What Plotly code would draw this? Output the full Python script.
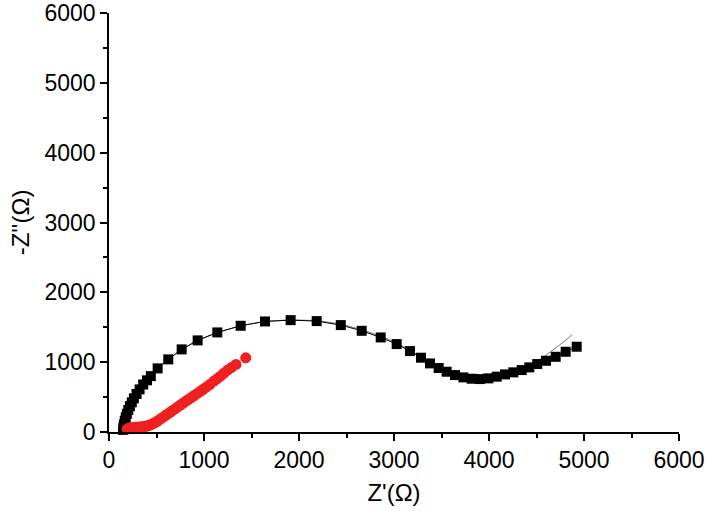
import plotly.graph_objects as go

# Black squares (measured data)
black_x = [148, 152, 158, 166, 176, 188, 203, 220, 240, 262, 290, 322, 360, 400, 440,
           512, 624, 765, 933, 1140, 1386, 1642, 1912, 2186, 2440, 2660, 2860, 3028,
           3168, 3284, 3379, 3470, 3554, 3642, 3730, 3818, 3905, 3993, 4081, 4168,
           4256, 4344, 4424, 4508, 4600, 4702, 4807, 4923]
black_y = [30, 70, 110, 160, 210, 260, 315, 370, 425, 482, 545, 610, 680, 740, 800,
           911, 1040, 1183, 1312, 1426, 1521, 1583, 1602, 1588, 1531, 1449, 1354, 1259,
           1159, 1064, 982, 916, 863, 815, 782, 763, 758, 768, 792, 825,
           854, 887, 925, 973, 1020, 1077, 1149, 1221]

# Fitted curve (thin grey line)
fit_x = [148, 166, 188, 220, 262, 322, 400, 512, 624, 765, 933, 1140, 1386, 1642,
         1912, 2186, 2440, 2660, 2860, 3028, 3168, 3284, 3379, 3470, 3554, 3642,
         3730, 3818, 3905, 3993, 4081, 4168, 4256, 4344, 4424, 4508, 4600, 4700,
         4800, 4877]
fit_y = [30, 160, 260, 370, 482, 610, 740, 911, 1040, 1183, 1312, 1426, 1521, 1585,
         1606, 1596, 1545, 1466, 1372, 1276, 1172, 1072, 988, 920, 866, 818,
         784, 764, 759, 770, 796, 830, 862, 898, 942, 1010, 1100, 1200,
         1305, 1395]

# Red circles
red_x = [190, 205, 220, 235, 250, 265, 280, 295, 310, 325, 340, 355, 370, 385, 400,
         415, 430, 448, 466, 485, 505, 525, 547, 570, 594, 618, 643, 668, 694, 720,
         747, 775, 803, 832, 862, 893, 925, 958, 992, 1027, 1064, 1105, 1140, 1175,
         1210, 1249, 1290, 1337, 1439]
red_y = [40, 52, 58, 62, 64, 66, 67, 68, 69, 70, 72, 74, 77, 81, 86,
         92, 100, 110, 122, 136, 152, 170, 190, 212, 235, 258, 282, 306, 331, 356,
         382, 408, 435, 462, 490, 519, 549, 580, 612, 645, 682, 730, 765, 801,
         842, 887, 925, 968, 1063]

x_ticks = [0, 1000, 2000, 3000, 4000, 5000, 6000]
y_ticks = [0, 1000, 2000, 3000, 4000, 5000, 6000]

FONT = "Liberation Sans, Arial, sans-serif"

fig = go.Figure()
fig.add_trace(go.Scatter(x=fit_x, y=fit_y, mode="lines",
                         line=dict(color="#7a7a7a", width=1), hoverinfo="skip",
                         showlegend=False))
fig.add_trace(go.Scatter(x=black_x, y=black_y, mode="lines+markers",
                         line=dict(color="black", width=1),
                         marker=dict(symbol="square", size=10, color="black"),
                         cliponaxis=False, showlegend=False))
fig.add_trace(go.Scatter(x=red_x, y=red_y, mode="markers",
                         marker=dict(symbol="circle", size=11, color="#f02020"),
                         cliponaxis=False, showlegend=False))

axis_common = dict(
    showline=True, linecolor="black", linewidth=1.5,
    ticks="outside", ticklen=7, tickwidth=1.5, tickcolor="black",
    showgrid=False, zeroline=False, automargin=False,
    tickfont=dict(family=FONT, size=23, color="black"),
    minor=dict(ticks="outside", ticklen=4, tickwidth=1.5, tickcolor="black", dtick=500),
)

fig.update_layout(
    width=708, height=511,
    margin=dict(l=109, r=29, t=13, b=79),
    paper_bgcolor="white", plot_bgcolor="white",
    xaxis=dict(range=[0, 6000], tickvals=x_ticks, ticktext=[str(v) for v in x_ticks],
               title=dict(text="Z'(Ω)", font=dict(family=FONT, size=24, color="black"),
                          standoff=12),
               **axis_common),
    yaxis=dict(range=[0, 6000], tickvals=y_ticks, ticktext=[str(v) for v in y_ticks],
               title=dict(text="-Z''(Ω)", font=dict(family=FONT, size=24, color="black"),
                          standoff=8),
               **axis_common),
)

fig.write_html("out.html", config={"displayModeBar": False},
               post_script="document.body.style.margin='0';document.body.style.overflow='hidden';")
